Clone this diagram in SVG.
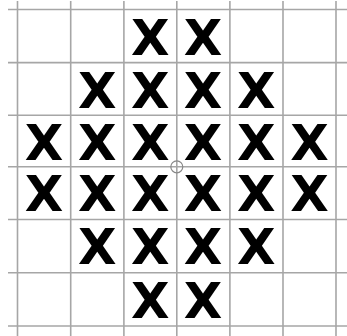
<svg xmlns="http://www.w3.org/2000/svg" width="347" height="336" viewBox="0 0 347 336">
<style>
.g{stroke:#a6a6a6;stroke-width:1.6;fill:none}
.x{font-family:"DejaVu Sans",sans-serif;font-weight:bold;font-size:50px;fill:#000;text-anchor:middle}
</style>
<rect width="347" height="336" fill="#fff"/>
<g id="grid" class="g">
<line x1="17.5" y1="1" x2="17.5" y2="336"/>
<line x1="70.7" y1="1" x2="70.7" y2="336"/>
<line x1="123.9" y1="1" x2="123.9" y2="336"/>
<line x1="176.8" y1="1" x2="176.8" y2="336"/>
<line x1="229.9" y1="1" x2="229.9" y2="336"/>
<line x1="283" y1="1" x2="283" y2="336"/>
<line x1="336" y1="1" x2="336" y2="336"/>
<line x1="8" y1="9.5" x2="347" y2="9.5"/>
<line x1="8" y1="62.6" x2="347" y2="62.6"/>
<line x1="8" y1="115.3" x2="347" y2="115.3"/>
<line x1="8" y1="166.8" x2="347" y2="166.8"/>
<line x1="8" y1="219.5" x2="347" y2="219.5"/>
<line x1="8" y1="272.8" x2="347" y2="272.8"/>
<line x1="8" y1="326" x2="347" y2="326"/>
<circle cx="176.8" cy="166.8" r="6" stroke="#888" stroke-width="1.2"/>
</g>
<g id="r0c2"><text class="x" x="150.3" y="55.3">X</text></g>
<g id="r0c3"><text class="x" x="203.1" y="55.3">X</text></g>
<g id="r1c1"><text class="x" x="97.3" y="108">X</text></g>
<g id="r1c2"><text class="x" x="150.3" y="108">X</text></g>
<g id="r1c3"><text class="x" x="203.1" y="108">X</text></g>
<g id="r1c4"><text class="x" x="256.4" y="108">X</text></g>
<g id="r2c0"><text class="x" x="44.1" y="160">X</text></g>
<g id="r2c1"><text class="x" x="97.3" y="160">X</text></g>
<g id="r2c2"><text class="x" x="150.3" y="160">X</text></g>
<g id="r2c3"><text class="x" x="203.1" y="160">X</text></g>
<g id="r2c4"><text class="x" x="256.4" y="160">X</text></g>
<g id="r2c5"><text class="x" x="309.6" y="160">X</text></g>
<g id="r3c0"><text class="x" x="44.1" y="211">X</text></g>
<g id="r3c1"><text class="x" x="97.3" y="211">X</text></g>
<g id="r3c2"><text class="x" x="150.3" y="211">X</text></g>
<g id="r3c3"><text class="x" x="203.1" y="211">X</text></g>
<g id="r3c4"><text class="x" x="256.4" y="211">X</text></g>
<g id="r3c5"><text class="x" x="309.6" y="211">X</text></g>
<g id="r4c1"><text class="x" x="97.3" y="264.3">X</text></g>
<g id="r4c2"><text class="x" x="150.3" y="264.3">X</text></g>
<g id="r4c3"><text class="x" x="203.1" y="264.3">X</text></g>
<g id="r4c4"><text class="x" x="256.4" y="264.3">X</text></g>
<g id="r5c2"><text class="x" x="150.3" y="317.6">X</text></g>
<g id="r5c3"><text class="x" x="203.1" y="317.6">X</text></g>
</svg>
